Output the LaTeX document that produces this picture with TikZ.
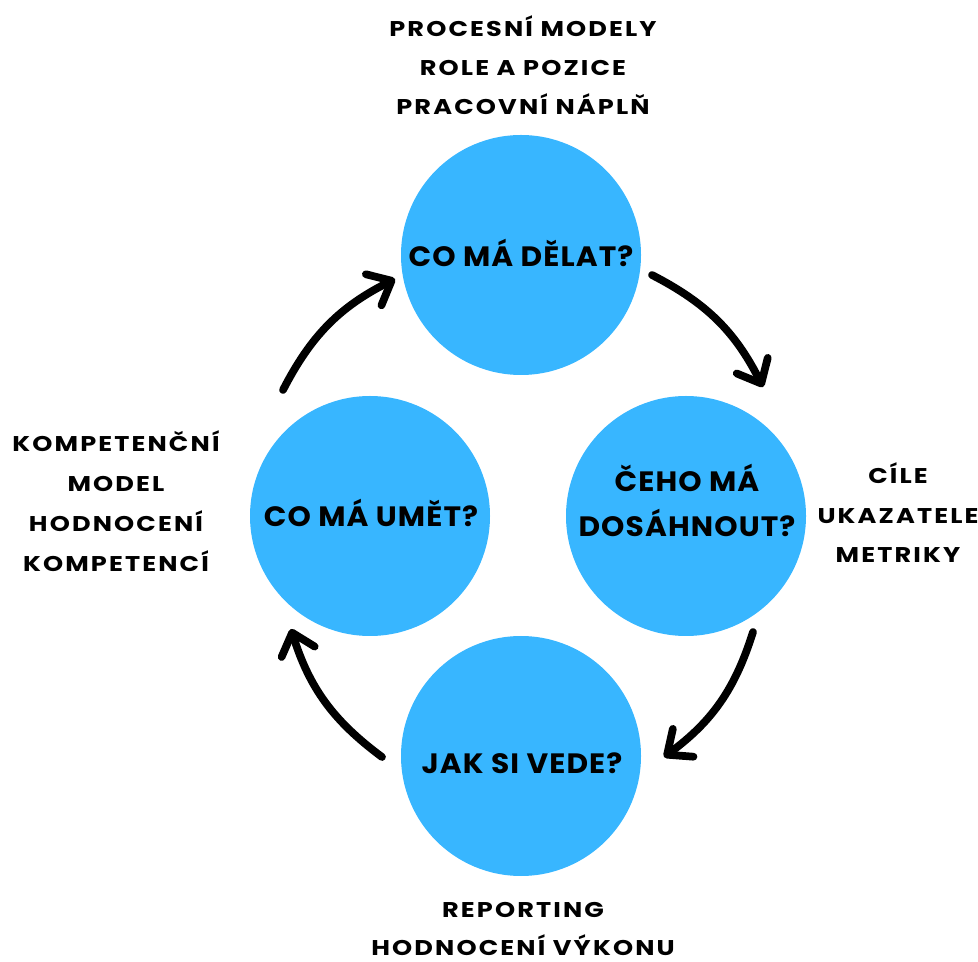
\documentclass[tikz,border=0pt]{standalone}
\usepackage{fontspec}
\setmainfont{Poppins}
\usetikzlibrary{arrows.meta,calc}
\definecolor{circblue}{RGB}{56,182,255}
\newfontfamily\outerfont{Poppins}[FakeStretch=1.2,LetterSpace=10]
\newfontfamily\innerfont{Poppins}[FakeStretch=1.06,LetterSpace=4]
\begin{document}
\begin{tikzpicture}[x=0.75pt,y=0.75pt,
  bubble/.style={circle, fill=circblue, draw=none, minimum size=180pt, inner sep=0pt},
  lbl/.style={font=\outerfont\bfseries\fontsize{16}{16}\selectfont, anchor=base, inner sep=0pt},
  qlbl/.style={font=\innerfont\bfseries\fontsize{21}{21}\selectfont, anchor=base, inner sep=0pt},
  arr/.style={line width=5.8pt, line cap=round, -{Straight Barb[length=15pt,width=26pt,round]}}]
\useasboundingbox (0,0) rectangle (978,961);
% circles
\node[bubble] (top) at (521,706) {};
\node[bubble] (right) at (686,445) {};
\node[bubble] (left) at (370,445) {};
\node[bubble] (bot) at (521,205) {};
% circle texts
\node[qlbl] (qtop) at (521,694) {CO MÁ DĚLAT?};
\node[qlbl] (qright1) at (687,469) {ČEHO MÁ};
\node[qlbl] (qright2) at (687,424) {DOSÁHNOUT?};
\node[qlbl] (qleft) at (371,434) {CO MÁ UMĚT?};
\node[qlbl] (qbot) at (522,188) {JAK SI VEDE?};
% outer labels
\node[lbl] (t1) at (523,924) {PROCESNÍ MODELY};
\node[lbl] (t2) at (523,885) {ROLE A POZICE};
\node[lbl] (t3) at (523,846) {PRACOVNÍ NÁPLŇ};
\node[lbl] (l1) at (116,509.5) {KOMPETENČNÍ};
\node[lbl] (l2) at (116,469.5) {MODEL};
\node[lbl] (l3) at (116,429.5) {HODNOCENÍ};
\node[lbl] (l4) at (116,389.5) {KOMPETENCÍ};
\node[lbl] (r1) at (898,477.5) {CÍLE};
\node[lbl] (r2) at (898,437.5) {UKAZATELE};
\node[lbl] (r3) at (898,398.5) {METRIKY};
\node[lbl] (b1) at (523,43.5) {REPORTING};
\node[lbl] (b2) at (523,5.5) {HODNOCENÍ VÝKONU};
% arrow ends
\coordinate (a1s) at (652,686);
\coordinate (a1e) at (763,574);
\coordinate (a2s) at (753,329);
\coordinate (a2e) at (664,204);
\coordinate (a3s) at (382,204);
\coordinate (a3e) at (291,332);
\coordinate (a4s) at (283,571);
\coordinate (a4e) at (395,682);
\draw[arr] (a1s) to[bend left=18] (a1e);
\draw[arr] (a2s) to[bend left=18] (a2e);
\draw[arr] (a3s) to[bend left=18] (a3e);
\draw[arr] (a4s) to[bend left=18] (a4e);
\end{tikzpicture}
\end{document}
